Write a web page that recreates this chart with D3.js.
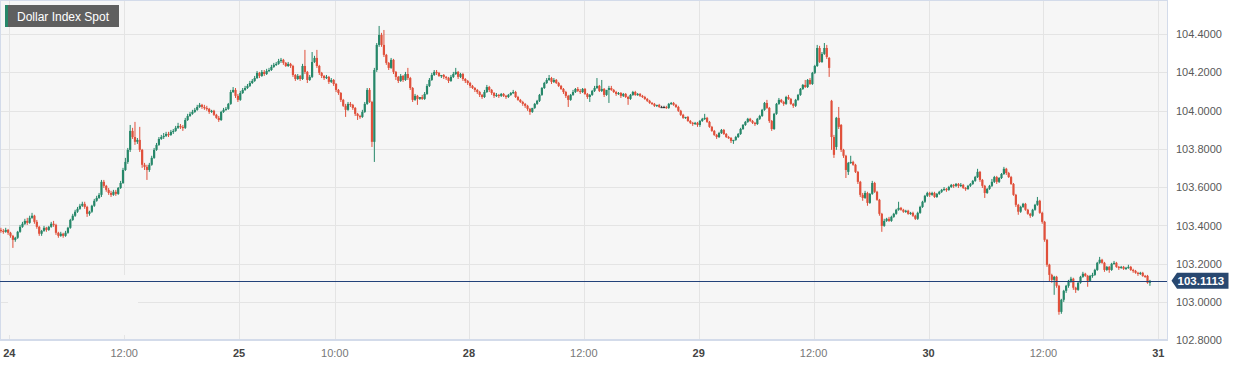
<!DOCTYPE html>
<html>
<head>
<meta charset="utf-8">
<script src="https://cdn.jsdelivr.net/npm/d3@7"></script>
<style>
  body { margin: 0; background: #ffffff; }
  svg text { font-family: "Liberation Sans", Arial, sans-serif; }
</style>
</head>
<body>
<div id="chart"></div>
<script>
var title = "Dollar Index Spot"
var lastPrice = 103.1113
var priceTicks = [102.8, 103.0, 103.2, 103.4, 103.6, 103.8, 104.0, 104.2, 104.4]

// 15 min bars, bar 0 = 23rd 23:00
var timeTicks = [4, 52, 100, 140, 196, 244, 292, 340, 388, 436, 484]
var timeLabels = ["24", "12:00", "25", "10:00", "28", "12:00", "29", "12:00", "30", "12:00", "31"]
var dayLabel = [true, false, true, false, true, false, true, false, true, false, true]

// [open, high, low, close]
var ohlc23 = [
  [103.377,103.388,103.362,103.372],[103.372,103.382,103.357,103.367],[103.367,103.388,103.362,103.377],[103.377,103.382,103.351,103.362]
]
var ohlc24 = [
  [103.362,103.367,103.336,103.346],[103.346,103.351,103.283,103.325],[103.325,103.341,103.315,103.336],[103.336,103.372,103.330,103.367],
  [103.367,103.403,103.362,103.393],[103.393,103.419,103.388,103.409],[103.409,103.435,103.403,103.424],[103.424,103.440,103.403,103.414],
  [103.414,103.451,103.409,103.440],[103.440,103.466,103.435,103.451],[103.451,103.456,103.409,103.419],[103.419,103.429,103.383,103.393],
  [103.393,103.398,103.346,103.357],[103.357,103.377,103.346,103.372],[103.372,103.398,103.367,103.388],[103.388,103.393,103.367,103.377],
  [103.377,103.398,103.372,103.393],[103.393,103.419,103.388,103.409],[103.409,103.424,103.393,103.403],[103.403,103.409,103.351,103.362],
  [103.362,103.367,103.336,103.346],[103.346,103.367,103.341,103.357],[103.357,103.362,103.336,103.346],[103.346,103.372,103.341,103.362],
  [103.362,103.393,103.357,103.388],[103.388,103.435,103.383,103.429],[103.429,103.461,103.424,103.451],[103.451,103.482,103.445,103.472],
  [103.472,103.497,103.466,103.487],[103.487,103.513,103.482,103.503],[103.503,103.524,103.497,103.513],[103.513,103.524,103.487,103.497],
  [103.497,103.503,103.445,103.461],[103.461,103.477,103.451,103.472],[103.472,103.508,103.466,103.503],[103.503,103.539,103.497,103.529],
  [103.529,103.555,103.524,103.544],[103.544,103.570,103.539,103.560],[103.560,103.638,103.549,103.628],[103.628,103.638,103.596,103.607],
  [103.607,103.612,103.576,103.586],[103.586,103.596,103.560,103.570],[103.570,103.581,103.549,103.560],[103.560,103.586,103.555,103.576],
  [103.576,103.586,103.555,103.565],[103.565,103.601,103.560,103.596],[103.596,103.633,103.591,103.622],[103.622,103.701,103.617,103.690],
  [103.690,103.753,103.685,103.732],[103.732,103.805,103.722,103.795],[103.795,103.925,103.784,103.894],[103.894,103.910,103.852,103.862],
  [103.862,103.941,103.821,103.837],[103.837,103.857,103.826,103.847],[103.847,103.915,103.784,103.795],[103.795,103.800,103.701,103.717],
  [103.717,103.727,103.690,103.706],[103.706,103.717,103.638,103.690],[103.690,103.727,103.680,103.717],[103.717,103.764,103.712,103.753],
  [103.753,103.805,103.748,103.795],[103.795,103.831,103.790,103.821],[103.821,103.862,103.816,103.852],[103.852,103.873,103.847,103.862],
  [103.862,103.883,103.852,103.868],[103.868,103.889,103.862,103.878],[103.878,103.889,103.862,103.873],[103.873,103.899,103.868,103.889],
  [103.889,103.904,103.878,103.894],[103.894,103.920,103.889,103.910],[103.910,103.936,103.904,103.920],[103.920,103.930,103.904,103.915],
  [103.915,103.925,103.894,103.910],[103.910,103.962,103.904,103.951],[103.951,103.983,103.946,103.972],[103.972,103.993,103.967,103.983],
  [103.983,104.004,103.978,103.993],[103.993,104.014,103.988,104.004],[104.004,104.030,103.999,104.019],[104.019,104.040,104.014,104.030],
  [104.030,104.035,104.009,104.019],[104.019,104.030,104.004,104.014],[104.014,104.025,103.999,104.009],[104.009,104.014,103.983,103.993],
  [103.993,104.004,103.988,103.999],[103.999,104.004,103.972,103.978],[103.978,103.983,103.957,103.962],[103.962,103.972,103.941,103.951],
  [103.951,103.999,103.946,103.993],[103.993,104.014,103.988,104.004],[104.004,104.019,103.999,104.009],[104.009,104.040,104.004,104.035],
  [104.035,104.108,104.030,104.097],[104.097,104.123,104.092,104.108],[104.108,104.118,104.066,104.077],[104.077,104.087,104.045,104.056]
]
var ohlc25 = [
  [104.056,104.103,104.051,104.092],[104.092,104.118,104.087,104.108],[104.108,104.129,104.103,104.118],[104.118,104.139,104.113,104.129],
  [104.129,104.155,104.123,104.144],[104.144,104.165,104.139,104.155],[104.155,104.181,104.150,104.170],[104.170,104.207,104.165,104.197],
  [104.197,104.202,104.170,104.181],[104.181,104.212,104.176,104.202],[104.202,104.212,104.181,104.191],[104.191,104.218,104.186,104.207],
  [104.207,104.223,104.202,104.212],[104.212,104.239,104.207,104.228],[104.228,104.249,104.223,104.239],[104.239,104.254,104.233,104.244],
  [104.244,104.270,104.239,104.259],[104.259,104.275,104.249,104.265],[104.265,104.270,104.239,104.249],[104.249,104.254,104.228,104.233],
  [104.233,104.254,104.228,104.244],[104.244,104.249,104.223,104.233],[104.233,104.239,104.176,104.186],[104.186,104.191,104.155,104.165],
  [104.165,104.191,104.160,104.181],[104.181,104.186,104.155,104.165],[104.165,104.244,104.160,104.233],[104.233,104.317,104.191,104.202],
  [104.202,104.207,104.144,104.160],[104.160,104.186,104.155,104.176],[104.176,104.306,104.170,104.254],[104.254,104.286,104.249,104.275],
  [104.275,104.317,104.223,104.233],[104.233,104.239,104.186,104.197],[104.197,104.202,104.170,104.181],[104.181,104.186,104.160,104.170],
  [104.170,104.186,104.165,104.176],[104.176,104.181,104.139,104.150],[104.150,104.170,104.144,104.160],[104.160,104.165,104.129,104.139],
  [104.139,104.144,104.097,104.108],[104.108,104.113,104.082,104.092],[104.092,104.097,104.045,104.056],[104.056,104.061,104.019,104.025],
  [104.025,104.035,103.967,104.004],[104.004,104.045,103.999,104.035],[104.035,104.045,104.019,104.030],[104.030,104.035,104.004,104.014],
  [104.014,104.019,103.972,103.983],[103.983,103.988,103.951,103.972],[103.972,103.978,103.957,103.967],[103.967,104.004,103.962,103.993],
  [103.993,104.045,103.988,104.035],[104.035,104.118,104.030,104.108],[104.108,104.118,104.040,104.045],[104.045,104.051,103.810,103.837],
  [103.837,104.223,103.732,104.212],[104.212,104.353,104.202,104.343],[104.343,104.442,104.333,104.395],[104.395,104.406,104.333,104.343],
  [104.343,104.421,104.280,104.291],[104.291,104.296,104.239,104.249],[104.249,104.254,104.212,104.223],[104.223,104.275,104.218,104.265],
  [104.265,104.270,104.191,104.202],[104.202,104.207,104.160,104.176],[104.176,104.181,104.144,104.155],[104.155,104.191,104.150,104.181],
  [104.181,104.186,104.150,104.160],[104.160,104.202,104.155,104.191],[104.191,104.223,104.160,104.170],[104.170,104.176,104.108,104.118],
  [104.118,104.123,104.045,104.056],[104.056,104.087,104.051,104.077],[104.077,104.082,104.030,104.061],[104.061,104.071,104.056,104.071],
  [104.071,104.082,104.056,104.061],[104.061,104.097,104.056,104.087],[104.087,104.139,104.082,104.129],[104.129,104.170,104.123,104.160],
  [104.160,104.197,104.155,104.186],[104.186,104.212,104.181,104.202],[104.202,104.212,104.186,104.197],[104.197,104.202,104.176,104.181],
  [104.181,104.186,104.170,104.186],[104.186,104.191,104.165,104.176],[104.176,104.181,104.160,104.170],[104.170,104.176,104.144,104.155],
  [104.155,104.186,104.150,104.176],[104.176,104.202,104.170,104.191],[104.191,104.223,104.186,104.202],[104.202,104.207,104.165,104.176],
  [104.176,104.197,104.170,104.191],[104.191,104.197,104.155,104.165],[104.165,104.170,104.144,104.155],[104.155,104.160,104.134,104.144]
]
var ohlc28 = [
  [104.144,104.150,104.118,104.129],[104.129,104.134,104.113,104.118],[104.118,104.123,104.097,104.108],[104.108,104.113,104.087,104.097],
  [104.097,104.103,104.071,104.082],[104.082,104.087,104.061,104.071],[104.071,104.108,104.066,104.097],[104.097,104.134,104.092,104.123],
  [104.123,104.129,104.097,104.108],[104.108,104.113,104.082,104.092],[104.092,104.097,104.066,104.077],[104.077,104.092,104.071,104.082],
  [104.082,104.087,104.066,104.077],[104.077,104.092,104.071,104.087],[104.087,104.092,104.071,104.077],[104.077,104.082,104.061,104.071],
  [104.071,104.087,104.066,104.082],[104.082,104.097,104.077,104.092],[104.092,104.108,104.087,104.097],[104.097,104.103,104.066,104.071],
  [104.071,104.077,104.051,104.056],[104.056,104.061,104.040,104.045],[104.045,104.051,104.025,104.035],[104.035,104.040,104.014,104.025],
  [104.025,104.030,103.999,104.009],[104.009,104.014,103.978,103.993],[103.993,104.014,103.988,104.014],[104.014,104.040,104.009,104.035],
  [104.035,104.056,104.030,104.051],[104.051,104.087,104.045,104.082],[104.082,104.123,104.077,104.118],[104.118,104.150,104.113,104.144],
  [104.144,104.170,104.139,104.160],[104.160,104.186,104.155,104.170],[104.170,104.176,104.139,104.150],[104.150,104.170,104.144,104.160],
  [104.160,104.165,104.139,104.144],[104.144,104.150,104.123,104.129],[104.129,104.134,104.108,104.113],[104.113,104.118,104.087,104.097],
  [104.097,104.103,104.066,104.077],[104.077,104.082,104.019,104.056],[104.056,104.087,104.051,104.082],[104.082,104.108,104.077,104.097],
  [104.097,104.118,104.092,104.113],[104.113,104.123,104.097,104.103],[104.103,104.113,104.087,104.097],[104.097,104.118,104.092,104.113],
  [104.113,104.118,104.082,104.087],[104.087,104.092,104.061,104.071],[104.071,104.087,104.045,104.082],[104.082,104.108,104.077,104.103],
  [104.103,104.129,104.097,104.118],[104.118,104.170,104.113,104.129],[104.129,104.134,104.097,104.103],[104.103,104.160,104.097,104.113],
  [104.113,104.118,104.071,104.082],[104.082,104.108,104.077,104.108],[104.108,104.129,104.040,104.118],[104.118,104.129,104.103,104.108],
  [104.108,104.113,104.092,104.097],[104.097,104.103,104.077,104.087],[104.087,104.097,104.082,104.092],[104.092,104.097,104.066,104.077],
  [104.077,104.092,104.071,104.087],[104.087,104.092,104.066,104.071],[104.071,104.077,104.030,104.061],[104.061,104.087,104.056,104.082],
  [104.082,104.103,104.077,104.097],[104.097,104.103,104.077,104.082],[104.082,104.092,104.077,104.087],[104.087,104.092,104.071,104.077],
  [104.077,104.082,104.066,104.071],[104.071,104.077,104.056,104.061],[104.061,104.066,104.045,104.051],[104.051,104.056,104.035,104.040],
  [104.040,104.045,104.030,104.035],[104.035,104.040,104.019,104.025],[104.025,104.030,104.019,104.030],[104.030,104.035,104.014,104.019],
  [104.019,104.025,104.014,104.019],[104.019,104.025,104.014,104.019],[104.019,104.025,104.009,104.014],[104.014,104.040,104.009,104.035],
  [104.035,104.045,104.030,104.040],[104.040,104.045,104.025,104.030],[104.030,104.035,104.014,104.019],[104.019,104.025,103.993,103.999],
  [103.999,104.004,103.972,103.978],[103.978,103.983,103.957,103.962],[103.962,103.967,103.957,103.967],[103.967,103.972,103.941,103.946],
  [103.946,103.951,103.930,103.936],[103.936,103.941,103.920,103.930],[103.930,103.941,103.925,103.936],[103.936,103.941,103.915,103.925]
]
var ohlc29 = [
  [103.925,103.951,103.915,103.946],[103.946,103.962,103.941,103.957],[103.957,103.983,103.951,103.962],[103.962,103.967,103.936,103.941],
  [103.941,103.946,103.910,103.915],[103.915,103.920,103.889,103.894],[103.894,103.899,103.868,103.873],[103.873,103.878,103.852,103.862],
  [103.862,103.889,103.857,103.883],[103.883,103.904,103.878,103.899],[103.899,103.904,103.873,103.878],[103.878,103.883,103.857,103.862],
  [103.862,103.868,103.852,103.857],[103.857,103.862,103.831,103.842],[103.842,103.847,103.826,103.847],[103.847,103.868,103.842,103.862],
  [103.862,103.883,103.857,103.878],[103.878,103.910,103.873,103.904],[103.904,103.930,103.899,103.925],[103.925,103.946,103.920,103.941],
  [103.941,103.962,103.936,103.957],[103.957,103.962,103.941,103.946],[103.946,103.951,103.930,103.936],[103.936,103.941,103.920,103.930],
  [103.930,103.962,103.925,103.957],[103.957,103.978,103.951,103.972],[103.972,104.009,103.967,104.004],[104.004,104.045,103.999,104.040],
  [104.040,104.056,104.009,104.014],[104.014,104.019,103.936,103.946],[103.946,103.951,103.894,103.904],[103.904,103.988,103.899,103.983],
  [103.983,104.040,103.978,104.035],[104.035,104.066,104.030,104.056],[104.056,104.061,104.040,104.045],[104.045,104.051,104.025,104.035],
  [104.035,104.077,104.030,104.071],[104.071,104.082,104.056,104.061],[104.061,104.066,104.030,104.035],[104.035,104.040,104.014,104.025],
  [104.025,104.061,104.019,104.056],[104.056,104.087,104.051,104.082],[104.082,104.118,104.077,104.113],[104.113,104.139,104.108,104.134],
  [104.134,104.160,104.118,104.123],[104.123,104.165,104.118,104.160],[104.160,104.170,104.134,104.139],[104.139,104.202,104.134,104.197],
  [104.197,104.239,104.191,104.233],[104.233,104.343,104.228,104.327],[104.327,104.338,104.249,104.254],[104.254,104.306,104.249,104.296],
  [104.296,104.353,104.291,104.327],[104.327,104.343,104.270,104.280],[104.275,104.280,104.176,104.223],[104.051,104.056,103.795,103.862],
  [103.862,103.873,103.753,103.769],[103.810,103.967,103.795,103.962],[103.962,104.019,103.904,103.915],[103.925,103.930,103.784,103.795],
  [103.795,103.800,103.753,103.764],[103.764,103.769,103.648,103.690],[103.680,103.732,103.664,103.727],[103.727,103.764,103.722,103.732],
  [103.732,103.738,103.712,103.717],[103.717,103.722,103.674,103.680],[103.680,103.685,103.617,103.628],[103.628,103.633,103.549,103.560],
  [103.560,103.570,103.529,103.544],[103.544,103.581,103.539,103.570],[103.570,103.576,103.503,103.518],[103.518,103.570,103.513,103.565],
  [103.565,103.633,103.560,103.622],[103.622,103.628,103.570,103.576],[103.576,103.581,103.529,103.534],[103.534,103.539,103.451,103.461],
  [103.461,103.466,103.367,103.398],[103.398,103.435,103.393,103.424],[103.424,103.440,103.419,103.435],[103.435,103.445,103.419,103.424],
  [103.424,103.451,103.419,103.445],[103.445,103.466,103.440,103.461],[103.461,103.487,103.456,103.482],[103.482,103.524,103.477,103.492],
  [103.492,103.497,103.477,103.482],[103.482,103.487,103.466,103.472],[103.472,103.482,103.466,103.477],[103.477,103.482,103.456,103.461],
  [103.461,103.471,103.456,103.466],[103.466,103.472,103.445,103.451],[103.451,103.456,103.429,103.435],[103.435,103.472,103.429,103.466],
  [103.466,103.503,103.461,103.497],[103.497,103.529,103.492,103.524],[103.524,103.560,103.518,103.555],[103.555,103.576,103.549,103.570]
]
var ohlc30 = [
  [103.570,103.576,103.549,103.560],[103.560,103.576,103.555,103.570],[103.570,103.576,103.544,103.549],[103.549,103.570,103.544,103.565],
  [103.565,103.581,103.560,103.576],[103.576,103.591,103.570,103.586],[103.586,103.601,103.581,103.591],[103.591,103.596,103.576,103.586],
  [103.586,103.607,103.581,103.601],[103.601,103.617,103.596,103.612],[103.612,103.617,103.596,103.607],[103.607,103.622,103.601,103.617],
  [103.617,103.622,103.596,103.607],[103.607,103.622,103.601,103.612],[103.612,103.617,103.591,103.596],[103.596,103.601,103.581,103.591],
  [103.591,103.612,103.586,103.607],[103.607,103.622,103.601,103.617],[103.617,103.638,103.612,103.633],[103.633,103.659,103.628,103.653],
  [103.653,103.696,103.648,103.680],[103.680,103.685,103.628,103.638],[103.638,103.643,103.596,103.607],[103.607,103.612,103.544,103.570],
  [103.570,103.596,103.565,103.591],[103.591,103.612,103.586,103.607],[103.607,103.643,103.601,103.628],[103.628,103.659,103.622,103.653],
  [103.653,103.659,103.617,103.628],[103.628,103.653,103.622,103.648],[103.648,103.674,103.643,103.669],[103.669,103.706,103.664,103.696],
  [103.696,103.701,103.664,103.674],[103.674,103.680,103.648,103.653],[103.653,103.659,103.612,103.617],[103.617,103.622,103.555,103.560],
  [103.560,103.565,103.497,103.508],[103.508,103.513,103.456,103.472],[103.472,103.503,103.466,103.497],[103.497,103.518,103.492,103.513],
  [103.513,103.518,103.477,103.482],[103.482,103.487,103.456,103.461],[103.461,103.466,103.440,103.451],[103.451,103.487,103.445,103.482],
  [103.482,103.513,103.477,103.508],[103.508,103.549,103.503,103.529],[103.529,103.534,103.461,103.466],[103.466,103.472,103.409,103.419],
  [103.419,103.424,103.315,103.325],[103.325,103.330,103.184,103.195],[103.195,103.200,103.106,103.142],[103.142,103.148,103.101,103.116],
  [103.116,103.137,103.038,103.132],[103.132,103.137,103.075,103.085],[103.085,103.090,102.934,102.949],[102.949,103.017,102.939,103.012],
  [103.012,103.064,103.001,103.059],[103.059,103.090,103.048,103.085],[103.085,103.116,103.075,103.111],[103.111,103.132,103.101,103.122],
  [103.122,103.127,103.064,103.075],[103.075,103.080,103.048,103.064],[103.064,103.106,103.059,103.101],[103.101,103.137,103.096,103.132],
  [103.132,103.158,103.127,103.148],[103.148,103.153,103.132,103.137],[103.137,103.142,103.080,103.111],[103.111,103.142,103.106,103.137],
  [103.137,103.153,103.127,103.142],[103.142,103.174,103.137,103.168],[103.168,103.210,103.163,103.205],[103.205,103.236,103.200,103.221],
  [103.221,103.226,103.200,103.205],[103.205,103.210,103.158,103.168],[103.168,103.189,103.163,103.184],[103.184,103.189,103.153,103.168],
  [103.168,103.205,103.163,103.200],[103.200,103.215,103.195,103.205],[103.205,103.210,103.179,103.184],[103.184,103.189,103.168,103.179],
  [103.179,103.189,103.174,103.184],[103.184,103.189,103.168,103.174],[103.174,103.184,103.168,103.179],[103.179,103.195,103.174,103.184],
  [103.184,103.189,103.163,103.168],[103.168,103.174,103.153,103.163],[103.163,103.168,103.148,103.153],[103.153,103.158,103.137,103.148],
  [103.148,103.158,103.142,103.153],[103.153,103.158,103.132,103.137],[103.137,103.142,103.127,103.132],[103.137,103.142,103.096,103.101],
  [103.101,103.116,103.085,103.1113]
]

var upColor = "#268769"
var downColor = "#e0503b"
var flatColor = "#333333"

function candleColor(d) {
  if (d.c > d.o) return upColor
  if (d.c < d.o) return downColor
  return flatColor
}

function drawChart() {
  var candles = [].concat(ohlc23, ohlc24, ohlc25, ohlc28, ohlc29, ohlc30).map(function (d, i) {
    return { i: i, o: d[0], h: d[1], l: d[2], c: d[3] }
  })

  var width = 1244, height = 366
  var plotW = 1167, plotH = 340
  var bg = "#f6f6f6"
  var gridColor = "#e4e4e4"

  var x = d3.scaleLinear().domain([4, 484]).range([9.3, 1158.3])
  var y = d3.scaleLinear().domain([102.8, 104.4]).range([340.4, 34])
  var bodyW = 2.2

  var svg = d3.select("#chart").append("svg")
    .attr("width", width)
    .attr("height", height)
    .style("display", "block")

  svg.append("rect")
    .attr("x", 0).attr("y", 0)
    .attr("width", plotW).attr("height", plotH)
    .attr("fill", bg)

  // grid
  svg.append("g").selectAll("line")
    .data(priceTicks.slice(1))
    .enter().append("line")
    .attr("x1", 0).attr("x2", plotW)
    .attr("y1", function (d) { return Math.round(y(d)) + 0.5 })
    .attr("y2", function (d) { return Math.round(y(d)) + 0.5 })
    .attr("stroke", gridColor)

  svg.append("g").selectAll("line")
    .data(timeTicks)
    .enter().append("line")
    .attr("x1", function (d) { return Math.round(x(d)) + 0.5 })
    .attr("x2", function (d) { return Math.round(x(d)) + 0.5 })
    .attr("y1", 0).attr("y2", plotH)
    .attr("stroke", gridColor)

  // empty box bottom-left that hides the grid
  svg.append("rect")
    .attr("x", 8).attr("y", 275)
    .attr("width", 130).attr("height", 60)
    .attr("fill", bg)

  // frame
  svg.append("rect")
    .attr("x", 0.5).attr("y", 0.5)
    .attr("width", plotW).attr("height", plotH - 0.5)
    .attr("fill", "none")
    .attr("stroke", "#d3dbea")
  svg.append("line")
    .attr("x1", 0).attr("x2", plotW + 1)
    .attr("y1", plotH).attr("y2", plotH)
    .attr("stroke", "#d3dbea").attr("stroke-width", 2)

  // candles
  var g = svg.append("g")
  var candle = g.selectAll(".candle")
    .data(candles)
    .enter().append("g")
    .attr("class", "candle")

  candle.append("line")
    .attr("x1", function (d) { return x(d.i + 0.5) })
    .attr("x2", function (d) { return x(d.i + 0.5) })
    .attr("y1", function (d) { return y(d.h) })
    .attr("y2", function (d) { return y(d.l) })
    .attr("stroke", candleColor)
    .attr("stroke-width", 1)

  candle.append("rect")
    .attr("x", function (d) { return x(d.i + 0.5) - bodyW / 2 })
    .attr("width", bodyW)
    .attr("y", function (d) { return y(Math.max(d.o, d.c)) })
    .attr("height", function (d) { return Math.max(1.2, Math.abs(y(d.o) - y(d.c))) })
    .attr("fill", candleColor)

  // last price line
  var ly = Math.round(y(lastPrice)) + 0.5
  svg.append("line")
    .attr("x1", 0).attr("x2", plotW)
    .attr("y1", ly).attr("y2", ly)
    .attr("stroke", "#23427a")

  // y labels
  svg.append("g").selectAll("text")
    .data(priceTicks)
    .enter().append("text")
    .attr("x", 1176)
    .attr("y", function (d) { return y(d) + 4 })
    .attr("font-size", "11px")
    .attr("fill", "#595959")
    .text(function (d) { return d3.format(".4f")(d) })

  // price tag
  var py = y(lastPrice)
  svg.append("path")
    .attr("d", "M1171.5," + py + "L1177," + (py - 8) + "L1228.5," + (py - 8) +
      "L1228.5," + (py + 8) + "L1177," + (py + 8) + "Z")
    .attr("fill", "#284870")
  svg.append("text")
    .attr("x", 1177.5)
    .attr("y", py + 4.5)
    .attr("font-size", "11.5px")
    .attr("font-weight", "bold")
    .attr("fill", "#ffffff")
    .text(d3.format(".4f")(lastPrice))

  // x labels
  svg.append("g").selectAll("text")
    .data(timeTicks)
    .enter().append("text")
    .attr("x", function (d) { return x(d) })
    .attr("y", 356.5)
    .attr("text-anchor", "middle")
    .attr("font-size", "11px")
    .attr("font-weight", function (d, i) { return dayLabel[i] ? "bold" : "normal" })
    .attr("fill", function (d, i) { return dayLabel[i] ? "#444444" : "#777777" })
    .text(function (d, i) { return timeLabels[i] })

  // title tag
  svg.append("rect")
    .attr("x", 5).attr("y", 5)
    .attr("width", 114).attr("height", 22)
    .attr("fill", "#5f5f5f")
  svg.append("rect")
    .attr("x", 5).attr("y", 5)
    .attr("width", 3).attr("height", 22)
    .attr("fill", upColor)
  svg.append("text")
    .attr("x", 17).attr("y", 21)
    .attr("font-size", "12px")
    .attr("fill", "#ffffff")
    .text(title)
}

drawChart()
</script>
</body>
</html>
